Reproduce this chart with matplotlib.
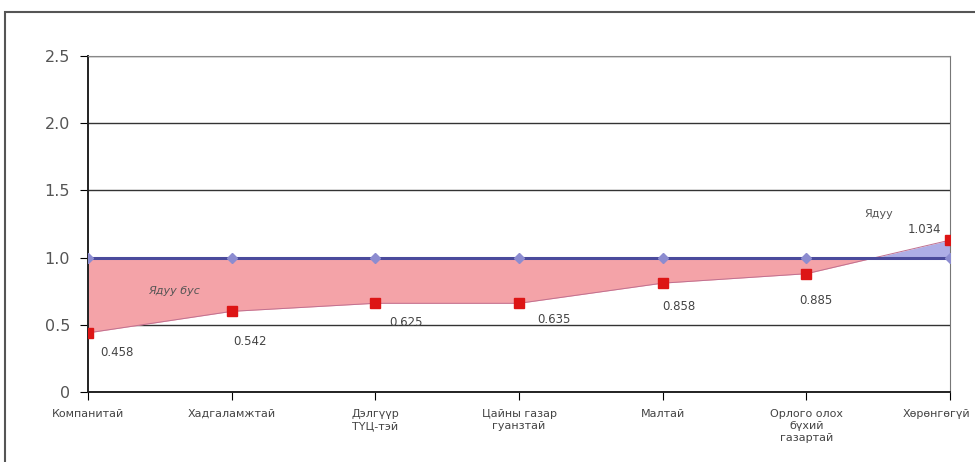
import matplotlib.pyplot as plt
from matplotlib.patches import Rectangle
from matplotlib.transforms import ScaledTranslation

categories = ["Компанитай", "Хадгаламжтай", "Дэлгүүр\nТҮЦ-тэй", "Цайны газар\nгуанзтай",
              "Малтай", "Орлого олох\nбүхий\nгазартай", "Хөрөнгөгүй"]
values = [0.44, 0.60, 0.66, 0.66, 0.81, 0.88, 1.13]
value_labels = ["0.458", "0.542", "0.625", "0.635", "0.858", "0.885", "1.034"]
poverty_line = [1.0, 1.0, 1.0, 1.0, 1.0, 1.0, 1.0]

# label offsets in points (dx, dy), tuned by eye
offsets = [(9, -14), (1, -22), (10, -14), (13, -12), (0, -17), (-5, -19), (-6, 8)]

fig = plt.figure(figsize=(9.75, 4.62), dpi=100)
fig.patches.append(Rectangle((5 / 975, -0.1), 1.2, 1 - 12 / 462 + 0.1,
                             transform=fig.transFigure, fill=False,
                             edgecolor="#555555", linewidth=1.5))
ax = fig.add_axes([88 / 975, 1 - 392 / 462, (950 - 88) / 975, (392 - 56) / 462])

x = list(range(len(categories)))

ax.fill_between(x, values, poverty_line, where=[v <= 1 for v in values],
                interpolate=True, color="#f4a3a8", linewidth=0)
ax.fill_between(x, values, poverty_line, where=[v >= 1 for v in values],
                interpolate=True, color="#aeaee6", linewidth=0)
ax.plot(x, values, color="#c07090", linewidth=0.7, zorder=3)
ax.plot(x, poverty_line, color="#4b4b9c", linewidth=2.2, zorder=4,
        marker="D", markersize=5, markerfacecolor="#8c8cd0", markeredgecolor="#8c8cd0")
ax.plot(x, values, linestyle="none", marker="s", markersize=7,
        color="#dd1515", zorder=5)

for i, (v, lab) in enumerate(zip(values, value_labels)):
    ha = "right" if i == len(values) - 1 else "left"
    ax.annotate(lab, (i, v), xytext=offsets[i], textcoords="offset points",
                ha=ha, va="center", fontsize=8.5, color="#444444")

ax.text(0.6, 0.73, "Ядуу бус", fontsize=8, color="#555555", style="italic", ha="center")
ax.text(5.5, 1.3, "Ядуу", fontsize=8, color="#555555", ha="center")

ax.set_xlim(0, len(categories) - 1)
ax.set_ylim(0, 2.5)
ax.set_yticks([0, 0.5, 1.0, 1.5, 2.0, 2.5])
ax.set_yticklabels(["0", "0.5", "1.0", "1.5", "2.0", "2.5"], fontsize=11.5, color="#555555")
ax.set_xticks(x)
ax.set_xticklabels(categories, fontsize=8, color="#444444", linespacing=1.3)
ax.tick_params(axis="x", length=6, pad=6)
ax.tick_params(axis="y", length=6, pad=7)
ax.grid(axis="y", color="#333333", linewidth=1)
ax.set_axisbelow(True)
for s in ["left", "bottom"]:
    ax.spines[s].set_color("#222222")
    ax.spines[s].set_linewidth(1.4)
ax.spines["right"].set_color("#777777")
ax.spines["top"].set_color("#888888")

# last category label sits a little left so it stays inside the frame
last = ax.get_xticklabels()[-1]
last.set_transform(last.get_transform() + ScaledTranslation(-14 / 100, 0, fig.dpi_scale_trans))

fig.savefig("out.png", dpi=100)
